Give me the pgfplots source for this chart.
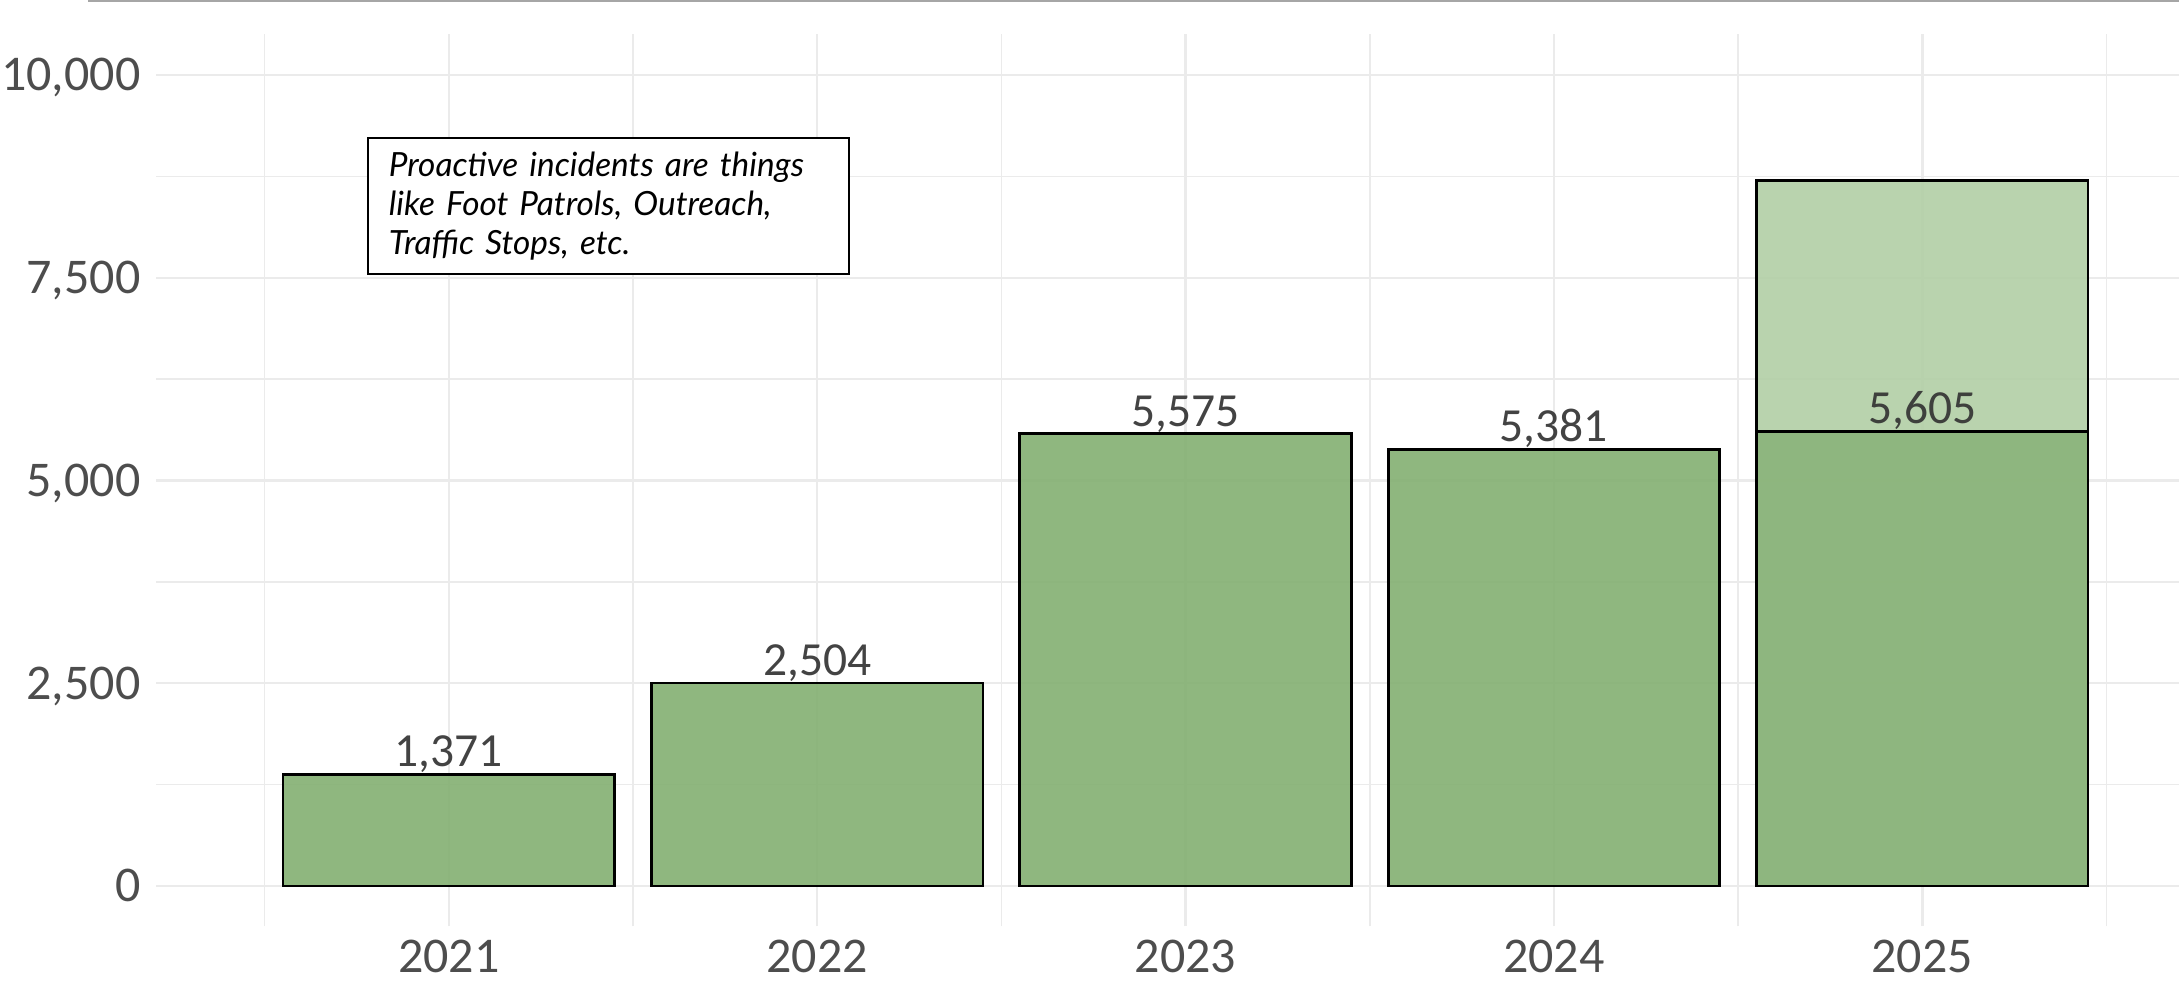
\documentclass[border=0pt]{standalone}
\usepackage{fontspec}
\setmainfont{Carlito}
\newfontfamily\notefont{Lato}
\usepackage{pgfplots}
\usepackage{pgfplotstable}
\pgfplotsset{compat=1.18}

\definecolor{tickgray}{HTML}{4D4D4D}
\definecolor{labelgray}{HTML}{333333}
\definecolor{gridgray}{HTML}{EBEBEB}
\definecolor{topline}{HTML}{A6A6A6}
\definecolor{barmain}{RGB}{133,177,116}
% same bar seen through the light 2025 bar
\definecolor{barmainover}{RGB}{139,180,123}
\definecolor{barextra}{RGB}{179,207,167}

% proactive incidents per year
\pgfplotstableread{
year count
2021 1371
2022 2504
2023 5575
2024 5381
}\incidents
\pgfplotstableread{
year count
2025 5605
}\incidentsnow
% 2025 bar total (light part on top)
\pgfplotstableread{
year total
2025 8700
}\projected

\pgfplotsset{
  countbar/.style={fill opacity=0.92, draw=black, line width=1pt,
    nodes near coords={\pgfmathprintnumber[fixed, precision=0, 1000 sep={,}, assume math mode=true]{\pgfplotspointmeta}},
    every node near coord/.append style={text=labelgray, anchor=base, inner sep=0pt,
        yshift=2.8pt, font=\fontsize{17.1}{18}\selectfont}},
}

\begin{document}
\begin{tikzpicture}
\begin{axis}[
    scale only axis,
    width=728.28pt,
    height=321.12pt,
    ybar,
    bar width=0.9,
    bar shift=0pt,
    xmin=2020.205, xmax=2025.697,
    ymin=-500, ymax=10500,
    scaled y ticks=false,
    xtick={2021,2022,2023,2024,2025},
    xticklabels={2021,2022,2023,2024,2025},
    minor xtick={2020.5,2021.5,2022.5,2023.5,2024.5,2025.5},
    ytick={0,2500,5000,7500,10000},
    yticklabels={0,{2,500},{5,000},{7,500},{10,000}},
    minor ytick={1250,3750,6250,8750},
    grid=both,
    major grid style={draw=gridgray, line width=0.9pt},
    minor grid style={draw=gridgray, line width=0.6pt},
    axis line style={draw=none},
    major tick length=0pt,
    minor tick length=0pt,
    tick label style={text=tickgray, font=\fontsize{18}{20}\selectfont},
    xticklabel style={anchor=north, inner sep=0pt, yshift=-4.6pt},
    yticklabel style={anchor=base east, inner sep=0pt, xshift=-5.4pt, yshift=-5.7pt},
]
\addplot[fill=barextra, fill opacity=0.92, draw=black, line width=1pt]
    table[x=year, y=total] {\projected};
\addplot[fill=barmain, countbar] table[x=year, y=count] {\incidents};
\addplot[fill=barmainover, countbar] table[x=year, y=count] {\incidentsnow};

\node[draw=black, line width=0.7pt, fill=white, anchor=north west,
      inner xsep=7.56pt, inner ysep=0pt, minimum width=173.2pt, minimum height=49pt,
      text width=158pt, align=left, font=\notefont\itshape\fontsize{12}{14}\selectfont]
    at (axis cs:2020.7775,9236)
    {Proactive incidents are things\\like Foot Patrols, Outreach,\\Traffic Stops, etc.};
\end{axis}
\draw[topline, line width=0.8pt] (-24.48pt,333.2pt) -- (728.28pt,333.2pt);
\pgfresetboundingbox
\path[use as bounding box] (-56.16pt,-19.62pt) rectangle (728.28pt,333.54pt);
\end{tikzpicture}
\end{document}
